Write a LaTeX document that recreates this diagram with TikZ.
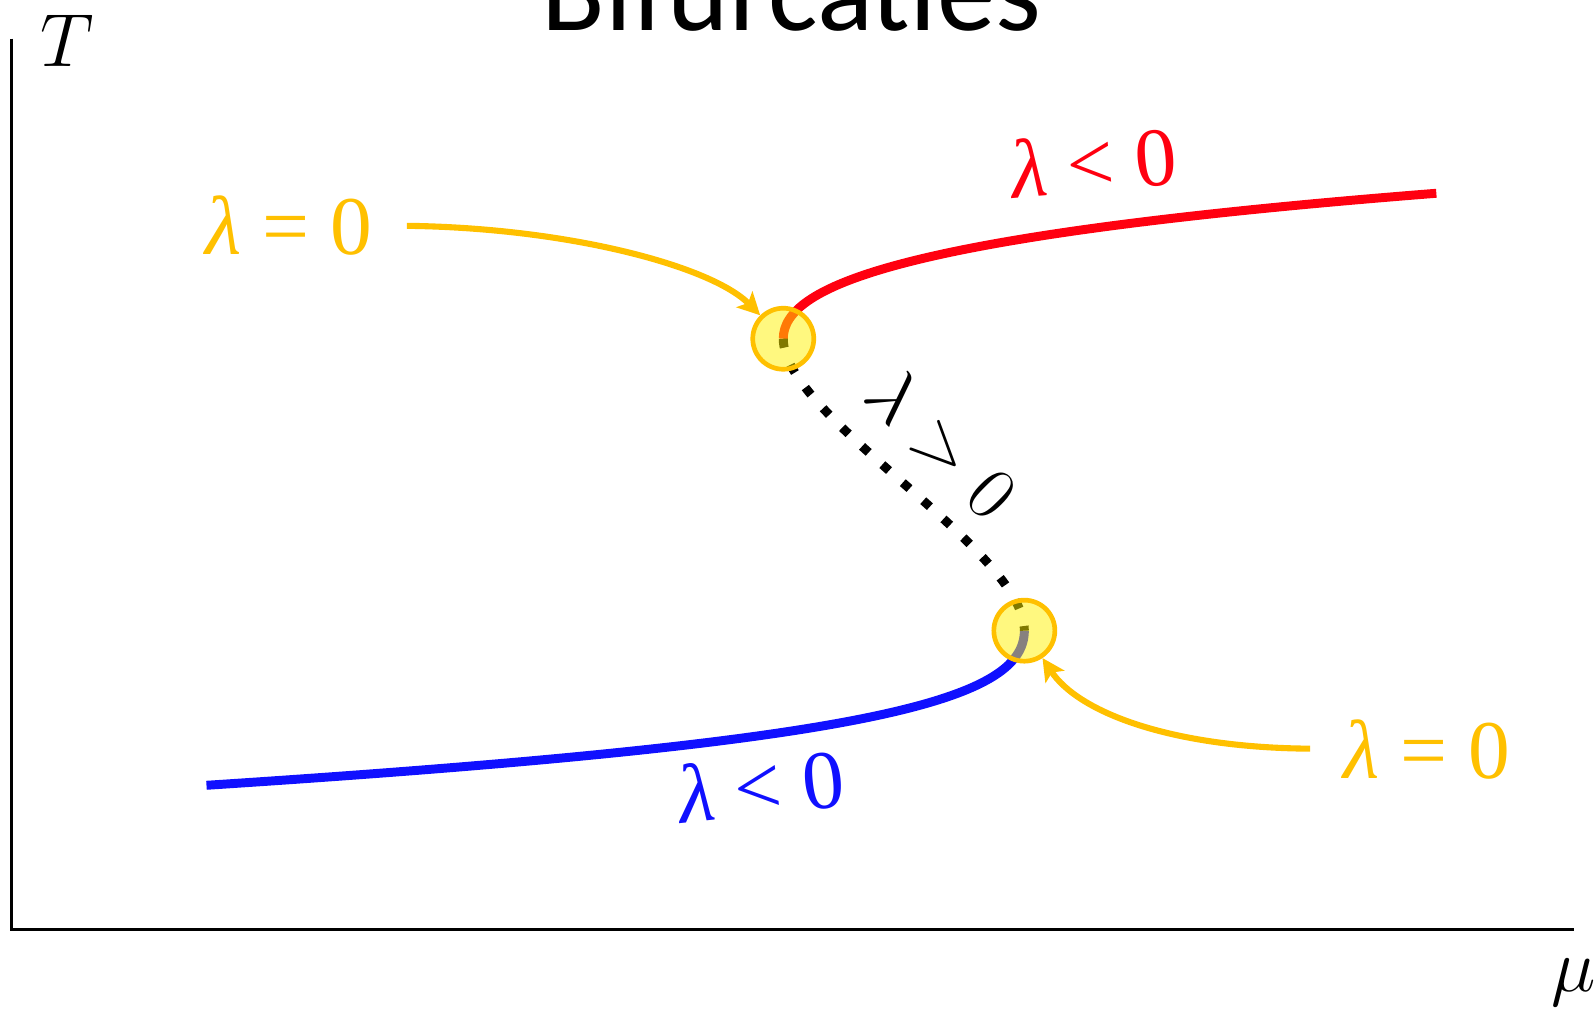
\RequirePackage{fix-cm}
\documentclass[tikz,border=0pt]{standalone}
\usepackage{fontspec}
\newfontfamily\titlefont{Carlito}
\newfontfamily\lamfont{Liberation Serif}
\usetikzlibrary{arrows.meta}
\definecolor{gold}{RGB}{255,192,0}
\definecolor{myred}{RGB}{255,0,16}
\definecolor{myblue}{RGB}{16,16,255}
\tikzset{
  axisline/.style={line width=1.5pt,black},
  branch/.style={line width=4.4pt},
  unstable/.style={line width=4.4pt,black,dash pattern=on 4.4pt off 9pt},
  fold/.style={circle,draw=gold,line width=2.3pt,fill=yellow,fill opacity=0.5,draw opacity=1,minimum size=30pt,inner sep=0pt},
  pointer/.style={gold,line width=3pt,-{Stealth[length=11pt,width=11pt,inset=2.5pt]}},
  lamlabel/.style={font=\lamfont\fontsize{41}{44}\selectfont,inner sep=0pt},
  axlabel/.style={font=\fontsize{37}{40}\selectfont,inner sep=0pt}
}
\begin{document}
\begin{tikzpicture}[x=0.5pt,y=-0.5pt]
\useasboundingbox (0,0) rectangle (1568,994);
% title
\node[font=\titlefont\fontsize{57.5}{60}\selectfont,anchor=base,inner sep=0pt] (title) at (778,30) {Bifurcaties};
% axes
\coordinate (O) at (11,914);
\coordinate (Ytop) at (11,38);
\coordinate (Xend) at (1547,914);
\draw[axisline] (Ytop) -- (O) -- (Xend);
\node[axlabel] (T) at (66,40) {$T$};
\node[axlabel] (mu) at (1547,966) {$\mu$};
% S-curve
\coordinate (F1) at (770,333);
\coordinate (F2) at (1007,620);
\coordinate (Rend) at (1412,190);
\coordinate (Bend) at (203,772);
\draw[branch,myred] (F1) .. controls (770,280) and (890,231) .. (Rend);
\draw[branch,myblue] (F2) .. controls (1007,690) and (850,730) .. (Bend);
\draw[unstable] (F1) .. controls (770,410) and (1007,540) .. (F2);
% fold points
\node[fold] (c1) at (770,333) {};
\node[fold] (c2) at (1007,620) {};
% labels
\node[lamlabel,gold] (l1) at (284,222) {\itshape λ\upshape\ = 0};
\node[lamlabel,gold] (l2) at (1403,737) {\itshape λ\upshape\ = 0};
\node[lamlabel,myred,rotate=5] (l3) at (1075,160) {\itshape λ\upshape\ < 0};
\node[lamlabel,myblue,rotate=6] (l4) at (748,773) {\itshape λ\upshape\ < 0};
\node[font=\fontsize{37}{40}\selectfont,inner sep=0pt,rotate=-45] (l5) at (926,436) {$\lambda>0$};
% arrows
\coordinate (a1) at (400,222);
\coordinate (a2) at (1288,736);
\draw[pointer] (a1) .. controls (560,224) and (700,262) .. (c1);
\draw[pointer] (a2) .. controls (1150,735) and (1060,700) .. (c2);
\end{tikzpicture}
\end{document}
